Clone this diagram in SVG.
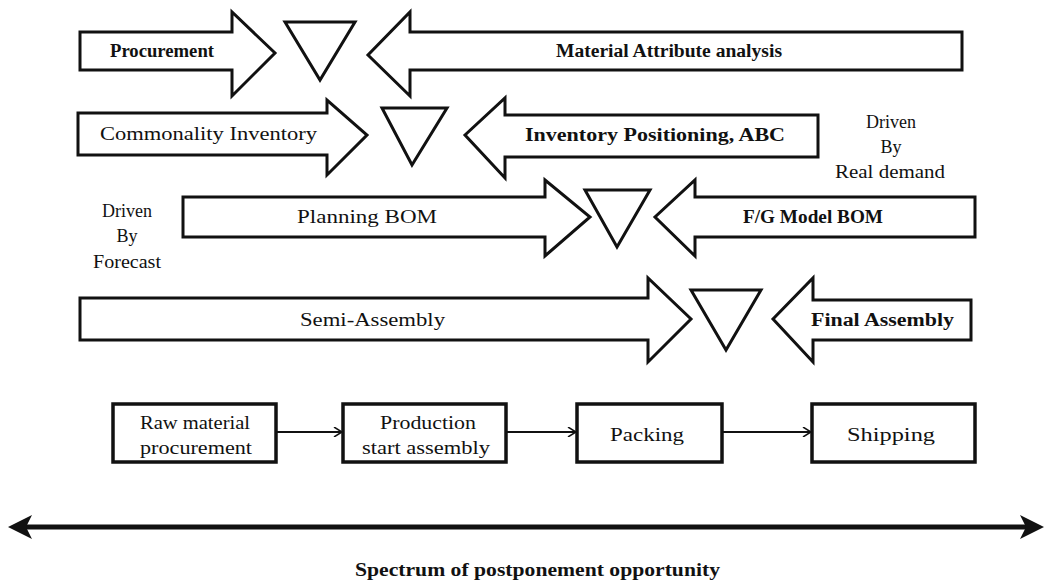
<svg xmlns="http://www.w3.org/2000/svg" width="1056" height="582" viewBox="0 0 1056 582">
<defs>
<style>
.sh{fill:#fff;stroke:#111;stroke-width:3;stroke-linejoin:miter}
.tri{fill:#fff;stroke:#111;stroke-width:3}
.box{fill:#fff;stroke:#111;stroke-width:3.5}
.t{font-family:"Liberation Serif","Times New Roman",serif;font-size:18px;fill:#111}
.b{font-weight:bold}
.c{text-anchor:middle}
.con{stroke:#111;stroke-width:2;fill:none}
</style>
<marker id="chev" viewBox="0 0 10 10" refX="9" refY="5" markerWidth="10" markerHeight="10" markerUnits="userSpaceOnUse" orient="auto">
<path d="M1,0 L9,5 L1,10" fill="none" stroke="#111" stroke-width="1.5"/>
</marker>
</defs>
<rect width="1056" height="582" fill="#fff"/>

<g id="procurement">
<polygon class="sh" points="80,32 232,32 232,12 275,53 232,96 232,70 80,70"/>
<text class="t b" x="110" y="57" textLength="104" lengthAdjust="spacingAndGlyphs">Procurement</text>
</g>
<g id="tri1"><polygon class="tri" points="285,22 355,22 320,80"/></g>
<g id="material-attribute">
<polygon class="sh" points="962,32 410,32 410,12 368,55 410,96 410,70 962,70"/>
<text class="t b" x="556" y="57" textLength="226" lengthAdjust="spacingAndGlyphs">Material Attribute analysis</text>
</g>

<g id="commonality">
<polygon class="sh" points="78,113 327,113 327,100 367,135 327,175 327,155 78,155"/>
<text class="t" x="100" y="140" textLength="217" lengthAdjust="spacingAndGlyphs">Commonality Inventory</text>
</g>
<g id="tri2"><polygon class="tri" points="382,108 447,108 412,165"/></g>
<g id="inventory-positioning">
<polygon class="sh" points="818,115 505,115 505,98 465,135 505,178 505,157 818,157"/>
<text class="t b" x="525" y="141" textLength="260" lengthAdjust="spacingAndGlyphs">Inventory Positioning, ABC</text>
</g>

<g id="driven-real">
<text class="t c" x="891" y="128">Driven</text>
<text class="t c" x="891" y="153">By</text>
<text class="t c" x="890" y="178" textLength="110" lengthAdjust="spacingAndGlyphs">Real demand</text>
</g>
<g id="driven-forecast">
<text class="t c" x="127" y="217">Driven</text>
<text class="t c" x="127" y="242">By</text>
<text class="t c" x="127" y="268" textLength="68" lengthAdjust="spacingAndGlyphs">Forecast</text>
</g>

<g id="planning-bom">
<polygon class="sh" points="183,197 545,197 545,180 590,217 545,256 545,237 183,237"/>
<text class="t" x="297" y="223" textLength="140" lengthAdjust="spacingAndGlyphs">Planning BOM</text>
</g>
<g id="tri3"><polygon class="tri" points="585,190 650,190 617,247"/></g>
<g id="fg-model-bom">
<polygon class="sh" points="975,197 695,197 695,180 655,217 695,256 695,237 975,237"/>
<text class="t b" x="743" y="223" textLength="140" lengthAdjust="spacingAndGlyphs">F/G Model BOM</text>
</g>

<g id="semi-assembly">
<polygon class="sh" points="80,298 648,298 648,278 691,319 648,362 648,340 80,340"/>
<text class="t" x="300" y="326" textLength="145" lengthAdjust="spacingAndGlyphs">Semi-Assembly</text>
</g>
<g id="tri4"><polygon class="tri" points="691,290 761,290 726,350"/></g>
<g id="final-assembly">
<polygon class="sh" points="971,300 813,300 813,278 773,319 813,362 813,340 971,340"/>
<text class="t b" x="811" y="326" textLength="143" lengthAdjust="spacingAndGlyphs">Final Assembly</text>
</g>

<g id="raw-material">
<rect class="box" x="113" y="404" width="163" height="58"/>
<text class="t" x="140" y="429" textLength="110" lengthAdjust="spacingAndGlyphs">Raw material</text>
<text class="t" x="140" y="454" textLength="112" lengthAdjust="spacingAndGlyphs">procurement</text>
</g>
<g id="production">
<rect class="box" x="343" y="404" width="163" height="58"/>
<text class="t c" x="428" y="429" textLength="96" lengthAdjust="spacingAndGlyphs">Production</text>
<text class="t" x="362" y="454" textLength="128" lengthAdjust="spacingAndGlyphs">start assembly</text>
</g>
<g id="packing">
<rect class="box" x="577" y="404" width="145" height="58"/>
<text class="t" x="610" y="441" textLength="74" lengthAdjust="spacingAndGlyphs">Packing</text>
</g>
<g id="shipping">
<rect class="box" x="812" y="404" width="163" height="58"/>
<text class="t" x="847" y="441" textLength="88" lengthAdjust="spacingAndGlyphs">Shipping</text>
</g>

<g id="connectors">
<line class="con" x1="276" y1="432" x2="342" y2="432" marker-end="url(#chev)"/>
<line class="con" x1="506" y1="432" x2="576" y2="432" marker-end="url(#chev)"/>
<line class="con" x1="722" y1="432" x2="811" y2="432" marker-end="url(#chev)"/>
<line x1="24" y1="527" x2="1026" y2="527" stroke="#111" stroke-width="5"/>
<polygon points="8,527 32,515 26,527 32,539" fill="#111"/>
<polygon points="1044,527 1020,515 1026,527 1020,539" fill="#111"/>
</g>

<g id="spectrum">
<text class="t b" x="355" y="576" textLength="365" lengthAdjust="spacingAndGlyphs">Spectrum of postponement opportunity</text>
</g>
</svg>
